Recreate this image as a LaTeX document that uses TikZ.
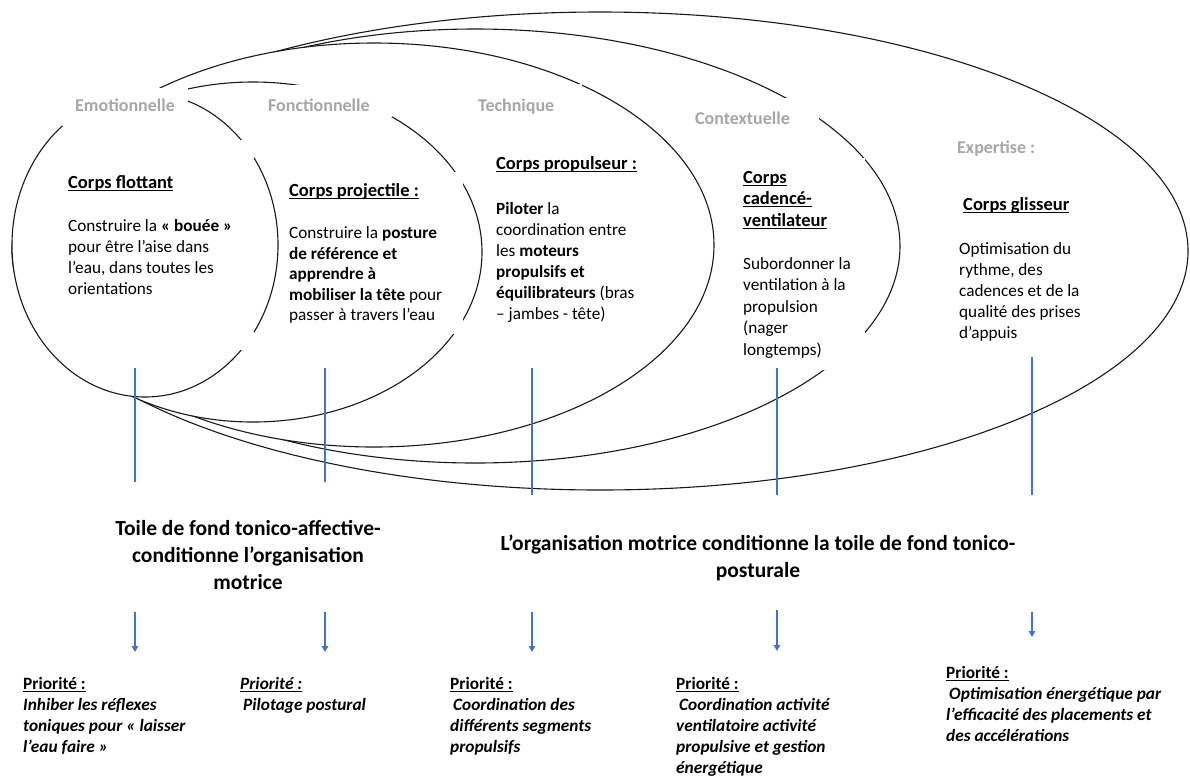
\documentclass[tikz,border=0pt]{standalone}
\usepackage{fontspec}
\setmainfont{Carlito}
\usetikzlibrary{arrows.meta}
\definecolor{grisetiq}{HTML}{A6A6A6}
\definecolor{bleutrait}{HTML}{4472C4}
\newcommand\souligne[1]{\leavevmode\setbox0\hbox{#1}\rlap{\rule[-2.6pt]{\wd0}{1.1pt}}\box0}
\begin{document}
\begin{tikzpicture}[
    x=1pt, y=-1pt,
    cercle/.style={draw=black!90, line width=1.1pt, fill=white},
    etiq/.style={fill=white, text=grisetiq, anchor=base west, inner ysep=0pt,
      font=\fontsize{18}{21}\selectfont\bfseries},
    boite/.style={fill=white, anchor=north west, inner ysep=0pt, align=flush left,
      font=\fontsize{17.2}{21}\selectfont},
    titre/.style={align=center, anchor=base,
      font=\fontsize{21.5}{27}\selectfont\bfseries},
    prio/.style={align=flush left, anchor=north west, inner sep=0pt,
      text height=15pt, font=\fontsize{17.3}{21}\selectfont\bfseries\itshape},
    lien/.style={draw=bleutrait, line width=1.5pt},
    fleche/.style={lien, -{Triangle[width=6.5pt,length=6pt]}}]
    \useasboundingbox (0,0) rectangle (1190,780);

    % Ellipses emboitees, de la plus grande a la plus petite.
    \draw[cercle] (600,251) ellipse [x radius=588pt, y radius=239pt];
    \draw[cercle] (475,246) ellipse [x radius=425pt, y radius=217pt];
    \draw[cercle] (374,245) ellipse [x radius=340pt, y radius=202pt];
    \draw[cercle] (253,252) ellipse [x radius=229pt, y radius=170pt];
    \draw[cercle] (145,245) ellipse [x radius=133pt, y radius=152pt];

    % Etiquettes grises.
    \node[etiq, inner xsep=13pt, text height=23pt, text depth=15pt] (emo)
        at (62,111) {Emotionnelle};
    \node[etiq, inner xsep=22pt, text height=26pt, text depth=6pt] (fonc)
        at (246,111) {Fonctionnelle};
    \node[etiq, inner xsep=28pt, text height=27pt, text depth=12pt] (tech)
        at (450,111) {Technique};
    \node[etiq, inner xsep=29pt, text height=26pt, text depth=10pt] (cont)
        at (666,124) {Contextuelle};
    \node[etiq, inner xsep=0pt] (expe) at (957,153) {Expertise :};

    % Blocs de texte.
    \node[boite, inner xsep=10pt, text width=176pt, text height=48pt,
        text depth=162pt] (flottant) at (58,140)
        {\souligne{\fontsize{18.5}{21}\selectfont\bfseries Corps flottant}\\[22pt]
         Construire la \textbf{«~bouée~»}\\
         pour être l’aise dans\\
         l’eau, dans toutes les\\
         orientations};
    \node[boite, inner xsep=9pt, text width=165pt, text height=24pt,
        text depth=138pt, font=\fontsize{17.2}{20.5}\selectfont] (projectile)
        at (280,172)
        {\souligne{\fontsize{18.5}{21}\selectfont\bfseries Corps projectile :}\\[22pt]
         Construire la \textbf{posture}\\
         \textbf{de référence et}\\
         \textbf{apprendre à}\\
         \textbf{mobiliser la tête} pour\\
         passer à travers l’eau};
    \node[boite, inner xsep=8pt, text width=160pt, text height=19pt,
        text depth=166pt] (propulseur) at (488,150)
        {\souligne{\fontsize{18.5}{21}\selectfont\bfseries Corps propulseur :}\\[24pt]
         \textbf{Piloter} la\\
         coordination entre\\
         les \textbf{moteurs}\\
         \textbf{propulsifs et}\\
         \textbf{équilibrateurs} (bras\\
         – jambes - tête)};
    \node[boite, inner xsep=8pt, text width=114pt, text height=25pt,
        text depth=187pt, font=\fontsize{17.2}{21.5}\selectfont] (cadence)
        at (735,158)
        {\souligne{\fontsize{18.5}{21}\selectfont\bfseries Corps}\\
         \souligne{\fontsize{18.5}{21}\selectfont\bfseries cadencé-}\\
         \souligne{\fontsize{18.5}{21}\selectfont\bfseries ventilateur}\\[21.5pt]
         Subordonner la\\
         ventilation à la\\
         propulsion\\
         (nager\\
         longtemps)};
    \node[boite, inner xsep=8pt, text width=150pt, text height=25pt,
        text depth=140pt] (glisseur) at (951,185)
        {\hspace*{4pt}\souligne{\fontsize{18.5}{21}\selectfont\bfseries Corps glisseur}\\[23pt]
         Optimisation du\\
         rythme, des\\
         cadences et de la\\
         qualité des prises\\
         d’appuis};

    % Traits verticaux bleus.
    \coordinate (trait1h) at (135,368);  \coordinate (trait1b) at (135,482);
    \coordinate (trait2h) at (325,368);  \coordinate (trait2b) at (325,482);
    \coordinate (trait3h) at (532,368);  \coordinate (trait3b) at (532,495);
    \coordinate (trait4h) at (777,368);  \coordinate (trait4b) at (777,495);
    \coordinate (trait5h) at (1032,357); \coordinate (trait5b) at (1032,495);
    \draw[lien] (trait1h) -- (trait1b);
    \draw[lien] (trait2h) -- (trait2b);
    \draw[lien] (trait3h) -- (trait3b);
    \draw[lien] (trait4h) -- (trait4b);
    \draw[lien] (trait5h) -- (trait5b);

    % Toiles de fond (ancre sur la derniere ligne).
    \node[titre] (toile) at (248,589)
        {Toile de fond tonico-affective-\\conditionne l’organisation\\motrice};
    \node[titre] (orga) at (758,577)
        {L’organisation motrice conditionne la toile de fond tonico-\\posturale};

    % Fleches vers les priorites.
    \coordinate (fl1h) at (135,612);  \coordinate (fl1b) at (135,652);
    \coordinate (fl2h) at (325,612);  \coordinate (fl2b) at (325,652);
    \coordinate (fl3h) at (532,612);  \coordinate (fl3b) at (532,652);
    \coordinate (fl4h) at (777,610);  \coordinate (fl4b) at (777,651);
    \coordinate (fl5h) at (1032,612); \coordinate (fl5b) at (1032,637);
    \draw[fleche] (fl1h) -- (fl1b);
    \draw[fleche] (fl2h) -- (fl2b);
    \draw[fleche] (fl3h) -- (fl3b);
    \draw[fleche] (fl4h) -- (fl4b);
    \draw[fleche] (fl5h) -- (fl5b);

    % Priorites.
    \node[prio, text width=200pt] (prio1) at (23,674)
        {\souligne{\upshape Priorité :}\\
         Inhiber les réflexes\\
         toniques pour « laisser\\
         l’eau faire »};
    \node[prio, text width=190pt] (prio2) at (240,674)
        {\souligne{Priorité :}\\
         \hspace*{3pt}Pilotage postural};
    \node[prio, text width=200pt] (prio3) at (450,674)
        {\souligne{\upshape Priorité :}\\
         \hspace*{3pt}Coordination des\\
         différents segments\\
         propulsifs};
    \node[prio, text width=230pt] (prio4) at (676,674)
        {\souligne{\upshape Priorité :}\\
         \hspace*{3pt}Coordination activité\\
         ventilatoire activité\\
         propulsive et gestion\\
         énergétique};
    \node[prio, text width=240pt] (prio5) at (946,663)
        {\souligne{\upshape Priorité :}\\
         \hspace*{3pt}Optimisation énergétique par\\
         l’efficacité des placements et\\
         des accélérations};
\end{tikzpicture}
\end{document}
